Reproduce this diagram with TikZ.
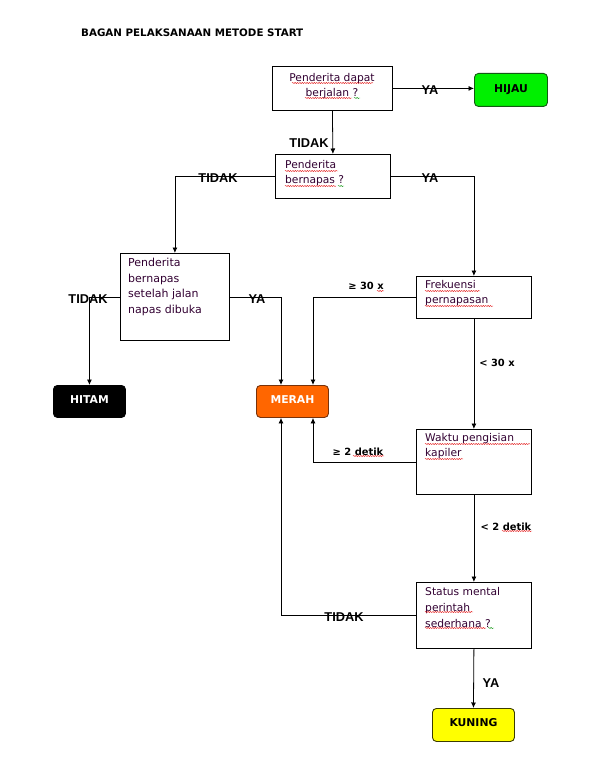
\documentclass[tikz,border=0pt]{standalone}
\usepackage{fontspec}
\setmainfont{DejaVu Sans}
\newfontfamily\labfont{Liberation Sans}
\usetikzlibrary{arrows.meta,decorations.pathmorphing}
\definecolor{txtc}{RGB}{50,0,50}
\definecolor{hijauc}{RGB}{0,240,0}
\definecolor{hijaub}{RGB}{20,90,20}
\definecolor{merahc}{RGB}{255,102,0}
\definecolor{merahb}{RGB}{120,50,10}
\definecolor{kuningc}{RGB}{255,255,0}
\definecolor{kuningb}{RGB}{60,60,0}
\definecolor{sqred}{RGB}{230,40,40}
\definecolor{sqgreen}{RGB}{40,160,40}
\begin{document}
\begin{tikzpicture}[x=1pt,y=-1pt,
  box/.style={draw, line width=0.8pt, rectangle, inner sep=0pt, anchor=north west},
  btxt/.style={inner sep=0pt, align=left, text=txtc, font=\fontsize{10.7}{15}\selectfont},
  term/.style={draw, line width=0.9pt, rounded corners=4pt, inner sep=0pt, anchor=north west,
     font=\fontsize{10.8}{12}\bfseries},
  yl/.style={inner sep=0pt, font=\labfont\fontsize{12.8}{14}\bfseries},
  cl/.style={inner sep=0pt, font=\fontsize{9.9}{12}\bfseries},
  conn/.style={line width=0.8pt, -{Latex[length=5.5pt,width=5pt]}},
  sq/.style={draw=sqred, line width=0.45pt, decorate,
     decoration={snake, segment length=2.4pt, amplitude=0.6pt}},
  sqg/.style={sq, draw=sqgreen}
]
\useasboundingbox[fill=white] (0,0) rectangle (592,765);

\node[inner sep=0pt, anchor=west, font=\fontsize{10.3}{12}\bfseries] (title) at (81,33) {BAGAN PELAKSANAAN METODE START};

% boxes
\node[box, minimum width=120pt, minimum height=44pt] (b1) at (272,66) {};
\node[box, minimum width=115pt, minimum height=44pt] (b2) at (275,154) {};
\node[box, minimum width=109pt, minimum height=87pt] (b3) at (120,253) {};
\node[box, minimum width=115pt, minimum height=42pt] (frek) at (416,276) {};
\node[box, minimum width=115pt, minimum height=65pt] (waktu) at (416,429) {};
\node[box, minimum width=115pt, minimum height=66pt] (status) at (416,582) {};

% box texts
\node[btxt, align=center, anchor=north] (t1) at (332,73) {Penderita dapat\\berjalan ?};
\node[btxt, anchor=north west] (t2) at (285,160) {Penderita\\bernapas ?};
\node[btxt, anchor=north west, font=\fontsize{11}{15.6}\selectfont] (t3) at (128,258) {Penderita\\bernapas\\setelah jalan\\napas dibuka};
\node[btxt, anchor=north west] (t4) at (425,280) {Frekuensi\\pernapasan};
\node[btxt, anchor=north west] (t5) at (425,433) {Waktu pengisian\\kapiler};
\node[btxt, anchor=north west, font=\fontsize{10.7}{16}\selectfont] (t6) at (425,587) {Status mental\\perintah\\sederhana ?};

% spell-check underlines
\draw[sq] (292,83) -- (373,83);
\draw[sq] (305,98) -- (352,98);
\draw[sqg] (354,98) -- (360,98);
\draw[sq] (285,171) -- (338,171);
\draw[sq] (285,186) -- (336,186);
\draw[sqg] (338,186) -- (344,186);
\draw[sq] (425,291) -- (480,291);
\draw[sq] (425,306) -- (493,306);
\draw[sq] (425,444) -- (530,444);
\draw[sq] (425,459) -- (463,459);
\draw[sq] (425,612) -- (473,612);
\draw[sq] (425,628) -- (486,628);
\draw[sqg] (488,628) -- (494,628);
\draw[sq] (377,291) -- (384,291);
\draw[sq] (353,456) -- (384,456);
\draw[sq] (502,531) -- (532,531);

% terminals
\node[term, fill=hijauc, draw=hijaub, minimum width=73pt, minimum height=33pt] (hijau) at (474,73) {\raisebox{3pt}{HIJAU}};
\node[term, fill=black, draw=black, text=white, minimum width=72pt, minimum height=32pt] (hitam) at (53,385) {\raisebox{4pt}{HITAM}};
\node[term, fill=merahc, draw=merahb, text=white, minimum width=72pt, minimum height=32pt] (merah) at (256,385) {\raisebox{4pt}{MERAH}};
\node[term, fill=kuningc, draw=kuningb, minimum width=82pt, minimum height=33pt] (kuning) at (432,708) {\raisebox{4pt}{KUNING}};

% connectors
\draw[conn] (b1.east) -- (b1.east -| hijau.west);
\draw[conn] (b1.south) -- (b2.north);
\draw[conn] (b2.west) -| (b3.north);
\draw[conn] (b2.east) -| (frek.north);
\draw[conn] (b3.west) -| (hitam.north);
\draw[conn] (b3.east) -| ([xshift=25pt]merah.north west);
\draw[conn] (frek.west) -| ([xshift=57pt]merah.north west);
\draw[conn] (frek.south) -- (waktu.north);
\draw[conn] (waktu.west) -| ([xshift=57pt]merah.south west);
\draw[conn] (waktu.south) -- (status.north);
\draw[conn] (status.west) -| ([xshift=25pt]merah.south west);
\draw[conn] (status.south) -- (kuning.north);

% labels
\node[yl] (l1) at (430,90) {YA};
\node[yl] (l2) at (309,143) {TIDAK};
\node[yl] (l3) at (218,178) {TIDAK};
\node[yl] (l4) at (430,178) {YA};
\node[yl] (l5) at (88,299) {TIDAK};
\node[yl] (l6) at (257,299) {YA};
\node[yl] (l7) at (344,617) {TIDAK};
\node[yl] (l8) at (491,683) {YA};
\node[cl] (c1) at (366,286) {≥ 30 x};
\node[cl] (c2) at (497,363) {< 30 x};
\node[cl] (c3) at (358,452) {≥ 2 detik};
\node[cl] (c4) at (506,527) {< 2 detik};
\end{tikzpicture}
\end{document}
